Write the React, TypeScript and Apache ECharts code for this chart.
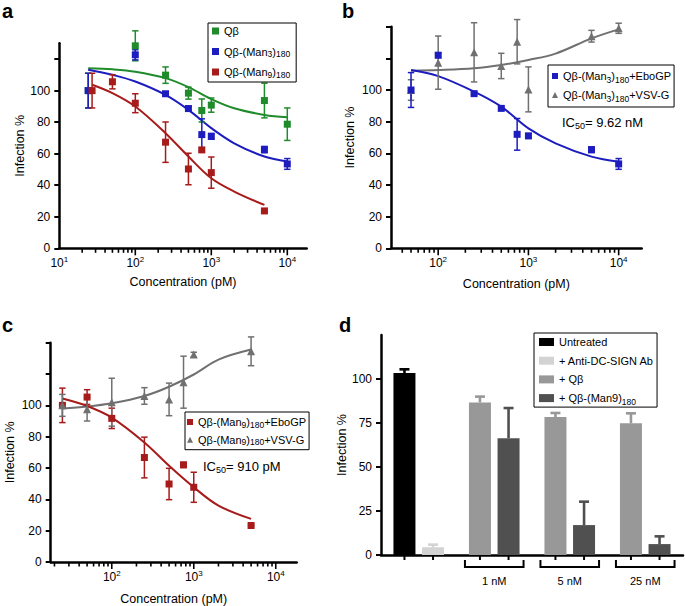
import React, { useEffect, useRef } from 'react';
import * as echarts from 'echarts';

const FONT = '"Liberation Sans", Arial, Helvetica, sans-serif';
const GREEN = '#1f8b2b';
const BLUE = '#1d1dbf';
const RED = '#a71b1b';
const GREY = '#707070';

// ---------- Panel a ----------
const aConc = [24, 100, 250, 500, 750, 1000, 5000, 10000];
const aQbY = [100, 128.4, 109.8, 98.4, 87.4, 90.8, 93.7, 78.7];
const aQbErr = [11, 9.5, 5.2, 3.8, 7.3, 4.5, 11, 10.3];
const aMan3Y = [100, 122.7, 98, 88.6, 72.1, 71, 62.6, 53.5];
const aMan3Err = [11, 3.2, 1.2, 1.5, 10, 1.8, 2, 3.4];
const aMan9Conc = [27, 50, 100, 250, 500, 750, 1000, 5000];
const aMan9Y = [100, 105.6, 92, 67.3, 50.3, 62.4, 48, 23.7];
const aMan9Err = [11, 4.5, 6, 12.8, 10, 1.2, 9.9, 0.5];
const aFitConc = [24, 50, 100, 250, 500, 1000, 2000, 5000, 10000];
const aQbFit = [114.2, 113.5, 112, 107.9, 102.2, 94.6, 88.8, 84.6, 83.1];
const aMan3Fit = [113.2, 110, 105.8, 97.3, 87.8, 76.2, 66.6, 58.2, 55];
const aMan9FitConc = [27, 50, 100, 250, 500, 1000, 2000, 5000];
const aMan9Fit = [103.7, 98.4, 89.9, 73, 58.2, 44.4, 36, 27.5];

// ---------- Panel b ----------
const bConc = [50, 100, 250, 500, 750, 1000, 5000, 10000];
const bEboY = [100, 122, 97.7, 88.4, 72, 71, 62.3, 53.3];
const bEboErr = [11, 1.5, 1, 1.2, 10, 1.5, 1.8, 3.4];
const bVsvY = [100, 117.3, 123.8, 115.2, 130.5, 100.4, 134, 139];
const bVsvErr = [6.5, 16.8, 18.7, 8, 14, 14.2, 3.7, 3.2];
const bFitConc = [50, 100, 250, 500, 1000, 2000, 5000, 10000];
const bEboFit = [112.6, 108.8, 99, 89.5, 75.8, 66.3, 57.9, 54.7];
const bVsvFit = [112.2, 112.6, 113.7, 115.8, 119, 123, 132.6, 138.3];

// ---------- Panel c ----------
const cConc = [25, 50, 100, 250, 500, 750, 1000, 5000];
const cEboY = [100, 105.3, 91.7, 66.7, 49.8, 62, 47.7, 23.3];
const cEboErr = [11, 4.7, 6.5, 13, 10, 1.6, 9.6, 0.5];
const cVsvY = [100, 97.5, 102, 106, 103.8, 114.8, 132.4, 134.5];
const cVsvErr = [7, 7.5, 15.3, 5.3, 10.4, 16.6, 1.5, 9.2];
const cFitConc = [25, 50, 100, 250, 500, 1000, 2000, 5000];
const cEboFit = [104.4, 99.6, 92.2, 76.3, 61.4, 47.7, 36, 27.5];
const cVsvFit = [98, 99.2, 101.3, 106, 111.9, 119.7, 129.2, 135.6];

// ---------- Panel d ----------
const dGroups = ['', '1 nM', '5 nM', '25 nM'];
const dUntreated = [103.4, '-', '-', '-'];
const dUntreatedErr = [2.1, 0, 0, 0];
const dAnti = [4.4, '-', '-', '-'];
const dAntiErr = [1.5, 0, 0, 0];
const dQb = ['-', 86.7, 78.4, 74.8];
const dQbErr = [0, 3.3, 2.3, 5.7];
const dMan9 = ['-', 66.3, 17, 6.2];
const dMan9Err = [0, 17.2, 13.3, 4.4];

const BAR_W = 22;
const BAR_GAP = 0.3;

const supRich = {
  b: { fontSize: 12, fontFamily: FONT, color: '#000', lineHeight: 16 },
  s: { fontSize: 8, fontFamily: FONT, color: '#000', lineHeight: 8, verticalAlign: 'top' },
};

const powFmt = (v: number) => {
  const l = Math.log10(v);
  const r = Math.round(l);
  return Math.abs(l - r) < 1e-6 ? `{b|10}{s|${r}}` : '';
};

const logTicks = (min: number, max: number) => {
  const out: number[][] = [];
  for (let d = Math.floor(Math.log10(min)); d <= Math.ceil(Math.log10(max)); d++) {
    for (let m = 1; m < 10; m++) {
      const v = m * Math.pow(10, d);
      if (v > min * 1.001 && v <= max) out.push([v, 0]);
    }
  }
  return out;
};

const nameStyle = { fontSize: 12.5, fontFamily: FONT, color: '#000' };

const logX = (gi: number, min: number, nameGap: number) => ({
  type: 'log',
  logBase: 10,
  gridIndex: gi,
  min,
  max: 18000,
  axisLine: { lineStyle: { color: '#000', width: 2.5 } },
  axisTick: { show: false },
  minorTick: { show: false },
  splitLine: { show: false },
  axisLabel: { formatter: powFmt, rich: supRich, margin: 7, hideOverlap: false },
  name: 'Concentration (pM)',
  nameLocation: 'middle',
  nameGap,
  nameTextStyle: nameStyle,
});

const valY = (gi: number, max: number, tickVals: number[], labelVals: number[], nameGap: number) => ({
  type: 'value',
  gridIndex: gi,
  min: 0,
  max,
  axisLine: { show: true, lineStyle: { color: '#000', width: 2.5 } },
  axisTick: { show: true, length: 5, lineStyle: { color: '#000', width: 2 }, customValues: tickVals },
  axisLabel: { customValues: labelVals, color: '#000', fontSize: 12, fontFamily: FONT, margin: 9 },
  splitLine: { show: false },
  name: 'Infection %',
  nameLocation: 'middle',
  nameGap,
  nameTextStyle: nameStyle,
});

const errSeries = (gi: number, xs: number[], ys: number[], es: number[], color: string) => ({
  type: 'custom',
  xAxisIndex: gi,
  yAxisIndex: gi,
  z: 3,
  silent: true,
  clip: false,
  data: xs.map((x, i) => [x, ys[i] - es[i], ys[i] + es[i]]),
  renderItem: (_p: any, api: any) => {
    const x = api.value(0);
    const lo = api.coord([x, api.value(1)]);
    const hi = api.coord([x, api.value(2)]);
    const c = 3.2;
    const st = { stroke: color, lineWidth: 1.5 };
    return {
      type: 'group',
      children: [
        { type: 'line', shape: { x1: lo[0], y1: lo[1], x2: hi[0], y2: hi[1] }, style: st },
        { type: 'line', shape: { x1: lo[0] - c, y1: lo[1], x2: lo[0] + c, y2: lo[1] }, style: st },
        { type: 'line', shape: { x1: hi[0] - c, y1: hi[1], x2: hi[0] + c, y2: hi[1] }, style: st },
      ],
    };
  },
});

const ptSeries = (gi: number, name: string, xs: number[], ys: number[], color: string, symbol = 'rect', size = 7) => ({
  type: 'scatter',
  name,
  xAxisIndex: gi,
  yAxisIndex: gi,
  symbol,
  symbolSize: size,
  z: 4,
  silent: true,
  itemStyle: { color, opacity: 1 },
  data: xs.map((x, i) => [x, ys[i]]),
});

const fitSeries = (gi: number, xs: number[], ys: number[], color: string) => ({
  type: 'line',
  xAxisIndex: gi,
  yAxisIndex: gi,
  smooth: 0.35,
  showSymbol: false,
  symbol: 'none',
  silent: true,
  z: 2,
  lineStyle: { color, width: 2 },
  itemStyle: { color },
  data: xs.map((x, i) => [x, ys[i]]),
});

const tickSeries = (gi: number, min: number) => ({
  type: 'custom',
  xAxisIndex: gi,
  yAxisIndex: gi,
  silent: true,
  clip: false,
  z: 5,
  data: logTicks(min, 18000),
  renderItem: (_p: any, api: any) => {
    const v = api.value(0);
    const p = api.coord([v, 0]);
    const l = Math.log10(v);
    const major = Math.abs(l - Math.round(l)) < 1e-6;
    return {
      type: 'line',
      shape: { x1: p[0], y1: p[1], x2: p[0], y2: p[1] + (major ? 7 : 4.5) },
      style: { stroke: '#000', lineWidth: 1.6 },
    };
  },
});

const subFmt = (n: string) => n.replace(/\(Man(\d)\)180/, '(Man{sub|$1}){sub|180}');
const subFmtD = (n: string) => n.replace(')180', '){sub|180}');

const legendText = (fs: number, lh: number) => ({
  fontSize: fs,
  fontFamily: FONT,
  color: '#000',
  lineHeight: lh,
  rich: { sub: { fontSize: 8.5, lineHeight: 6, verticalAlign: 'bottom', fontFamily: FONT, color: '#000' } },
});

const dBarColors = ['#000000', '#d3d3d3', '#989898', '#505050'];

const dErrData = [
  ...dUntreated.map((v, i) => [i, -1, v, dUntreatedErr[i], 0]),
  ...dAnti.map((v, i) => [i, 1, v, dAntiErr[i], 1]),
  ...dQb.map((v, i) => [i, -1, v, dQbErr[i], 2]),
  ...dMan9.map((v, i) => [i, 1, v, dMan9Err[i], 3]),
].filter((d) => d[2] !== '-');

const panelLabel = (t: string, x: number, y: number) => ({
  type: 'text', x, y,
  style: { text: t, font: `bold 20px ${FONT}`, fill: '#000', textAlign: 'left', textVerticalAlign: 'middle' },
});

export default function App() {
  const ref = useRef<HTMLDivElement>(null);
  useEffect(() => {
    if (!ref.current) return;
    const chart = echarts.init(ref.current, undefined, { renderer: 'svg' });
    const option: any = {
      animation: false,
      backgroundColor: '#fff',
      textStyle: { fontFamily: FONT },
      grid: [
        { left: 59.3, top: 43.3, width: 247.4, height: 205 },
        { left: 391, top: 26.7, width: 250.7, height: 221.6 },
        { left: 50.7, top: 342.7, width: 246, height: 220.6 },
        { left: 381, top: 335, width: 302, height: 220 },
      ],
      xAxis: [
        logX(0, 10, 27),
        logX(1, 30, 29),
        logX(2, 18, 30),
        {
          type: 'category',
          gridIndex: 3,
          data: dGroups,
          axisLine: { lineStyle: { color: '#000', width: 2.5 } },
          axisTick: { show: false },
          axisLabel: { color: '#000', fontSize: 11, fontFamily: FONT, margin: 20, interval: 0 },
        },
      ],
      yAxis: [
        valY(0, 130, [0, 20, 40, 60, 80, 100, 120], [0, 20, 40, 60, 80, 100], 33),
        valY(1, 140, [0, 20, 40, 60, 80, 100, 120, 140], [0, 20, 40, 60, 80, 100], 35),
        valY(2, 140, [0, 20, 40, 60, 80, 100, 120, 140], [0, 20, 40, 60, 80, 100], 34),
        valY(3, 125, [0, 25, 50, 75, 100], [0, 25, 50, 75, 100], 28),
      ],
      legend: [
        {
          orient: 'vertical', left: 208, top: 23, selectedMode: false,
          data: ['Qβ', 'Qβ-(Man3)180', 'Qβ-(Man9)180'],
          itemWidth: 7, itemHeight: 7, itemGap: 6.5, padding: [1, 6, 3, 4],
          borderColor: '#000', borderWidth: 1, borderRadius: 0,
          formatter: subFmt, textStyle: legendText(11, 14),
        },
        {
          orient: 'vertical', left: 548, top: 65, selectedMode: false,
          data: ['Qβ-(Man3)180+EboGP', 'Qβ-(Man3)180+VSV-G'],
          itemWidth: 6, itemHeight: 6, itemGap: 3, padding: [3, 3, 4, 4],
          borderColor: '#000', borderWidth: 1, borderRadius: 0,
          formatter: subFmt, textStyle: legendText(11, 16),
        },
        {
          orient: 'vertical', left: 185, top: 412, selectedMode: false,
          data: ['Qβ-(Man9)180+EboGP', 'Qβ-(Man9)180+VSV-G'],
          itemWidth: 6, itemHeight: 6, itemGap: 3.7, padding: [3, 3, 3, 2],
          borderColor: '#000', borderWidth: 1, borderRadius: 0,
          formatter: subFmt, textStyle: legendText(11, 14),
        },
        {
          orient: 'vertical', left: 534, top: 333, selectedMode: false,
          data: ['Untreated', '+ Anti-DC-SIGN Ab', '+ Qβ', '+ Qβ-(Man9)180'],
          icon: 'rect',
          itemWidth: 15, itemHeight: 8, itemGap: 2.7, padding: [1, 3, 1, 5],
          borderColor: '#000', borderWidth: 1, borderRadius: 0,
          formatter: subFmtD, textStyle: legendText(11, 16),
        },
      ],
      graphic: [
        panelLabel('a', 2, 10.5),
        panelLabel('b', 342, 10.5),
        panelLabel('c', 2, 325),
        panelLabel('d', 339, 325),
        {
          type: 'text', x: 562, y: 122,
          style: {
            text: 'IC{s|50}= 9.62 nM', fontSize: 13, fontFamily: FONT, fill: '#000', lineHeight: 17,
            textAlign: 'left', textVerticalAlign: 'middle',
            rich: { s: { fontSize: 9, lineHeight: 9, verticalAlign: 'bottom', fontFamily: FONT, fill: '#000' } },
          },
        },
        {
          type: 'text', x: 203, y: 466,
          style: {
            text: 'IC{s|50}= 910 pM', fontSize: 13, fontFamily: FONT, fill: '#000', lineHeight: 17,
            textAlign: 'left', textVerticalAlign: 'middle',
            rich: { s: { fontSize: 9, lineHeight: 9, verticalAlign: 'bottom', fontFamily: FONT, fill: '#000' } },
          },
        },
      ],
      series: [
        // panel a
        tickSeries(0, 10),
        fitSeries(0, aFitConc, aQbFit, GREEN),
        fitSeries(0, aFitConc, aMan3Fit, BLUE),
        fitSeries(0, aMan9FitConc, aMan9Fit, RED),
        errSeries(0, aConc, aQbY, aQbErr, GREEN),
        errSeries(0, aConc, aMan3Y, aMan3Err, BLUE),
        errSeries(0, aMan9Conc, aMan9Y, aMan9Err, RED),
        ptSeries(0, 'Qβ', aConc, aQbY, GREEN),
        ptSeries(0, 'Qβ-(Man3)180', aConc, aMan3Y, BLUE),
        ptSeries(0, 'Qβ-(Man9)180', aMan9Conc, aMan9Y, RED),
        // panel b
        tickSeries(1, 30),
        fitSeries(1, bFitConc, bVsvFit, GREY),
        fitSeries(1, bFitConc, bEboFit, BLUE),
        errSeries(1, bConc, bVsvY, bVsvErr, GREY),
        errSeries(1, bConc, bEboY, bEboErr, BLUE),
        ptSeries(1, 'Qβ-(Man3)180+VSV-G', bConc, bVsvY, GREY, 'triangle', 8),
        ptSeries(1, 'Qβ-(Man3)180+EboGP', bConc, bEboY, BLUE),
        // panel c
        tickSeries(2, 18),
        fitSeries(2, cFitConc, cVsvFit, GREY),
        fitSeries(2, cFitConc, cEboFit, RED),
        errSeries(2, cConc, cEboY, cEboErr, RED),
        errSeries(2, cConc, cVsvY, cVsvErr, GREY),
        ptSeries(2, 'Qβ-(Man9)180+EboGP', cConc, cEboY, RED),
        ptSeries(2, 'Qβ-(Man9)180+VSV-G', cConc, cVsvY, GREY, 'triangle', 8),
        // panel d
        { type: 'bar', name: 'Untreated', xAxisIndex: 3, yAxisIndex: 3, stack: 'A', data: dUntreated, barWidth: BAR_W, barGap: `${BAR_GAP * 100}%`, itemStyle: { color: dBarColors[0] }, silent: true },
        { type: 'bar', name: '+ Anti-DC-SIGN Ab', xAxisIndex: 3, yAxisIndex: 3, stack: 'B', data: dAnti, barWidth: BAR_W, barGap: `${BAR_GAP * 100}%`, itemStyle: { color: dBarColors[1] }, silent: true },
        { type: 'bar', name: '+ Qβ', xAxisIndex: 3, yAxisIndex: 3, stack: 'A', data: dQb, barWidth: BAR_W, barGap: `${BAR_GAP * 100}%`, itemStyle: { color: dBarColors[2] }, silent: true },
        { type: 'bar', name: '+ Qβ-(Man9)180', xAxisIndex: 3, yAxisIndex: 3, stack: 'B', data: dMan9, barWidth: BAR_W, barGap: `${BAR_GAP * 100}%`, itemStyle: { color: dBarColors[3] }, silent: true },
        {
          type: 'custom', xAxisIndex: 3, yAxisIndex: 3, silent: true, clip: false, z: 1,
          data: dErrData,
          renderItem: (_p: any, api: any) => {
            const idx = api.value(0);
            const side = api.value(1);
            const v = api.value(2);
            const e = api.value(3);
            const color = dBarColors[api.value(4)];
            const base = api.coord([idx, v]);
            const top = api.coord([idx, v + e]);
            const x = base[0] + side * (BAR_W * (1 + BAR_GAP)) / 2;
            const st = { stroke: color, lineWidth: 2.6 };
            return {
              type: 'group',
              children: [
                { type: 'line', shape: { x1: x, y1: base[1], x2: x, y2: top[1] }, style: st },
                { type: 'line', shape: { x1: x - 5, y1: top[1], x2: x + 5, y2: top[1] }, style: st },
              ],
            };
          },
        },
        {
          type: 'custom', xAxisIndex: 3, yAxisIndex: 3, silent: true, clip: false, z: 5,
          data: dGroups.map((_g, i) => [i, 0]),
          renderItem: (_p: any, api: any) => {
            const idx = api.value(0);
            const p = api.coord([idx, 0]);
            const off = (BAR_W * (1 + BAR_GAP)) / 2;
            const half = off + BAR_W / 2 + 4;
            const st = { stroke: '#000', lineWidth: 2, fill: 'none' };
            const children: any[] = [
              { type: 'line', shape: { x1: p[0] - off, y1: p[1], x2: p[0] - off, y2: p[1] + 5 }, style: st },
              { type: 'line', shape: { x1: p[0] + off, y1: p[1], x2: p[0] + off, y2: p[1] + 5 }, style: st },
            ];
            if (idx > 0) {
              children.push({
                type: 'polyline',
                shape: { points: [[p[0] - half, p[1] + 5], [p[0] - half, p[1] + 12], [p[0] + half, p[1] + 12], [p[0] + half, p[1] + 5]] },
                style: st,
              });
            }
            return { type: 'group', children };
          },
        },
      ],
    };
    chart.setOption(option);
    return () => chart.dispose();
  }, []);
  return <div ref={ref} style={{ position: 'fixed', left: 0, top: 0, width: 685, height: 606, background: '#fff' }} />;
}
